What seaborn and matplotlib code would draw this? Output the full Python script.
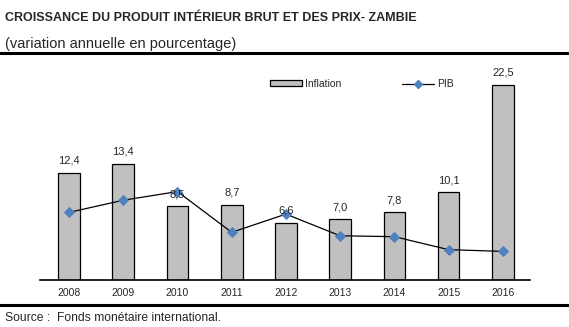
import matplotlib
matplotlib.use("Agg")
import matplotlib.pyplot as plt
import seaborn as sns
import pandas as pd
from matplotlib.patches import Patch
from matplotlib.lines import Line2D

years = ["2008", "2009", "2010", "2011", "2012", "2013", "2014", "2015", "2016"]
inflation = [12.4, 13.4, 8.5, 8.7, 6.6, 7.0, 7.8, 10.1, 22.5]
pib = [7.8, 9.2, 10.2, 5.5, 7.6, 5.1, 5.0, 3.5, 3.3]
inflation_labels = ["12,4", "13,4", "8,5", "8,7", "6,6", "7,0", "7,8", "10,1", "22,5"]

title = "CROISSANCE DU PRODUIT INTÉRIEUR BRUT ET DES PRIX- ZAMBIE"
subtitle = "(variation annuelle en pourcentage)"
source = "Source :  Fonds monétaire international."

sns.set_theme(style="white")
plt.rcParams["font.family"] = ["Liberation Sans", "DejaVu Sans"]

df = pd.DataFrame({"year": years, "inflation": inflation, "pib": pib})

fig = plt.figure(figsize=(5.69, 3.27), dpi=100)
ax = fig.add_axes([40 / 569, 47 / 327, 490 / 569, 215 / 327])

sns.barplot(data=df, x="year", y="inflation", color="#C0C0C0", saturation=1,
            edgecolor="black", linewidth=0.9, width=0.4, ax=ax, zorder=2)
sns.pointplot(data=df, x="year", y="pib", color="black", markers="D",
              linestyles="-", errorbar=None, ax=ax, linewidth=0.9,
              markersize=5, markerfacecolor="#4F81BD", markeredgecolor="#4F81BD",
              zorder=3)

ax.bar_label(ax.containers[0], labels=inflation_labels, padding=5, fontsize=8)

ax.set_xlim(-0.535, 8.5)
ax.set_ylim(0, 24.8)
ax.set_xlabel("")
ax.set_ylabel("")
ax.set_yticks([])
ax.tick_params(axis="x", length=0, pad=6, labelsize=7.5)
for s in ["top", "right", "left"]:
    ax.spines[s].set_visible(False)
ax.spines["bottom"].set_color("black")
ax.spines["bottom"].set_linewidth(1.2)

handles = [Patch(facecolor="#C0C0C0", edgecolor="black", linewidth=0.9),
           Line2D([0], [0], color="black", lw=0.9, marker="D", markersize=4,
                  markerfacecolor="#4F81BD", markeredgecolor="#4F81BD")]
fig.legend(handles, ["Inflation", "PIB"], ncol=2, frameon=False, fontsize=7.5,
           loc="center left", bbox_to_anchor=(261 / 569, 1 - 84 / 327),
           handlelength=3.0, handleheight=0.5, handletextpad=0.3,
           columnspacing=5.9)

fig.text(5 / 569, 1 - 18 / 327, title, fontsize=9, fontweight="bold",
         va="center", ha="left")
fig.text(5 / 569, 1 - 44 / 327, subtitle, fontsize=10.5, va="center", ha="left")
fig.text(5 / 569, 1 - 318 / 327, source, fontsize=8.7, va="center", ha="left")

fig.add_artist(Line2D([0, 1], [1 - 53 / 327, 1 - 53 / 327], color="black",
                      lw=2.2, transform=fig.transFigure))
fig.add_artist(Line2D([0, 1], [1 - 305 / 327, 1 - 305 / 327], color="black",
                      lw=2.2, transform=fig.transFigure))

fig.savefig("out.png", dpi=100)
